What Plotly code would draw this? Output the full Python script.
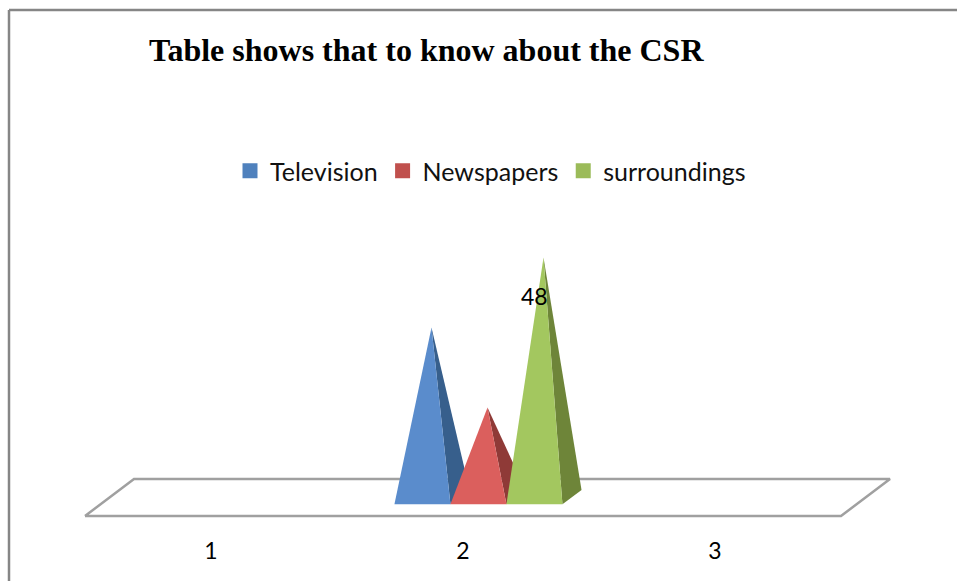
import plotly.graph_objects as go

categories = [1, 2, 3]
series_names = ["Television", "Newspapers", "surroundings"]
television = [0, 34, 0]
newspapers = [0, 18, 0]
surroundings = [0, 48, 0]
front_colors = ["#5A8CCC", "#DB5F5D", "#A3C75F"]
side_colors = ["#375F8C", "#8F3A37", "#6E8539"]
legend_colors = ["#4F81BD", "#C0504D", "#9BBB59"]
title_text = "Table shows that to know about the CSR"

W, H = 957, 581
BOTTOM = 46
BAR_W = 56 / 252
DEPTH_X = 49 / 252
DEPTH_Y = 37 / 5
NEAR, FAR = 0.315, 0.705


def project(x, depth, value):
    return x + DEPTH_X * depth, value + DEPTH_Y * (depth - 0.5)


fig = go.Figure()

floor = [project(0.5, 0, 0), project(3.5, 0, 0), project(3.5, 1, 0), project(0.5, 1, 0), project(0.5, 0, 0)]
fig.add_trace(go.Scatter(x=[p[0] for p in floor], y=[p[1] for p in floor], mode="lines",
                         line=dict(color="#A0A0A0", width=2.5), showlegend=False, hoverinfo="skip"))

all_values = [television, newspapers, surroundings]
for s, values in enumerate(all_values):
    for cat, v in zip(categories, values):
        if not v:
            continue
        cx = cat + (s - 1) * BAR_W
        left, right = cx - BAR_W / 2, cx + BAR_W / 2
        apex = project(cx, 0.5, v)
        fl, fr, br = project(left, NEAR, 0), project(right, NEAR, 0), project(right, FAR, 0)
        side = [fr, br, apex, fr]
        front = [fl, fr, apex, fl]
        for pts, col in ((side, side_colors[s]), (front, front_colors[s])):
            fig.add_trace(go.Scatter(x=[p[0] for p in pts], y=[p[1] for p in pts], mode="lines",
                                     fill="toself", fillcolor=col, line=dict(width=0, color=col),
                                     showlegend=False, hoverinfo="skip"))

for name, col in zip(series_names, legend_colors):
    fig.add_trace(go.Scatter(x=[None], y=[None], mode="markers", name=name,
                             marker=dict(symbol="square", size=15, color=col)))

label_value = surroundings[1]
fig.add_annotation(x=categories[1] + BAR_W, y=label_value, text=str(label_value), showarrow=False,
                   xshift=15, yshift=-38, font=dict(family="Lato", size=23, color="#000000"))

fig.update_layout(
    width=W, height=H, margin=dict(l=0, r=0, t=0, b=BOTTOM),
    paper_bgcolor="#FFFFFF", plot_bgcolor="#FFFFFF",
    title=dict(text="<b>" + title_text + "</b>", x=149 / W, xanchor="left", xref="paper",
               y=1 - 50 / H, yanchor="middle", yref="container",
               font=dict(family="Liberation Serif", size=32, color="#000000")),
    xaxis=dict(range=[1 - 211 / 252, 1 + 746 / 252], tickvals=categories, ticktext=[str(c) for c in categories],
               showgrid=False, zeroline=False, showline=False, ticks="",
               tickfont=dict(family="Lato", size=23, color="#000000")),
    yaxis=dict(range=[(497.5 - (H - BOTTOM)) / 5, 497.5 / 5], visible=False),
    legend=dict(orientation="h", x=230 / W, xanchor="left", y=1 - 171 / (H - BOTTOM), yanchor="middle",
                font=dict(family="Lato", size=25, color="#111111"), bgcolor="rgba(0,0,0,0)"),
    shapes=[
        dict(type="line", xref="paper", yref="paper", x0=9 / W, x1=1, y0=1 - 10 / (H - BOTTOM), y1=1 - 10 / (H - BOTTOM),
             line=dict(color="#868686", width=2.5)),
        dict(type="line", xref="paper", yref="paper", x0=9 / W, x1=9 / W, y0=1 - 10 / (H - BOTTOM), y1=-BOTTOM / (H - BOTTOM),
             line=dict(color="#868686", width=2.5)),
    ],
)
fig.write_html("out.html", config=dict(displayModeBar=False),
               post_script="document.body.style.margin='0';document.documentElement.style.overflow='hidden';")
